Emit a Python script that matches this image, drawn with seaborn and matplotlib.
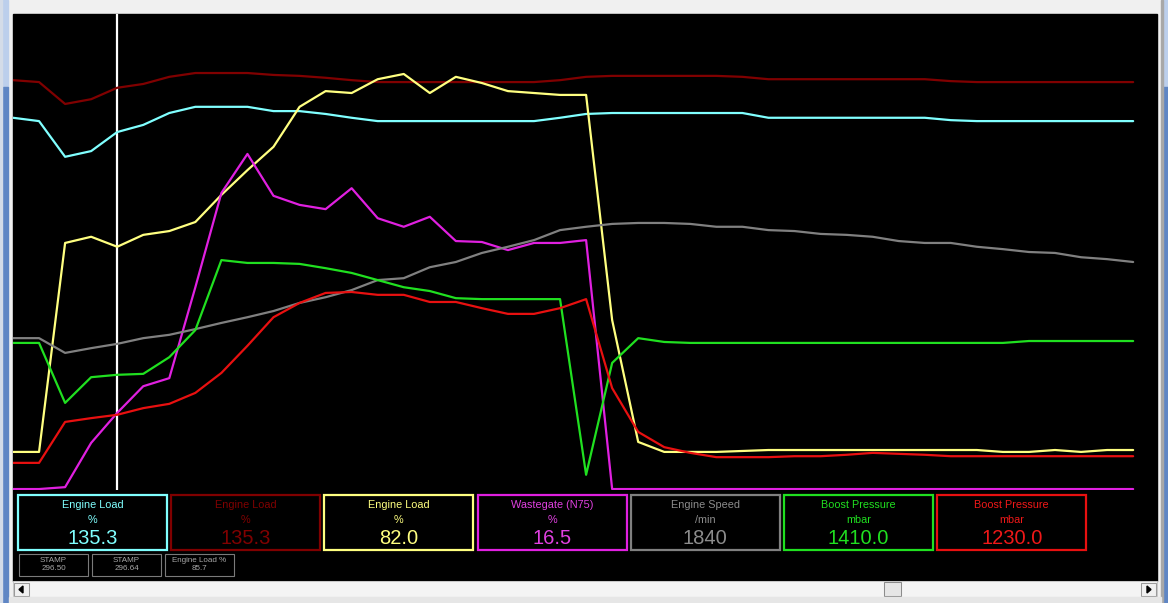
import numpy as np
import pandas as pd
import matplotlib
matplotlib.use("Agg")
import matplotlib.pyplot as plt
from matplotlib.patches import Rectangle, Polygon
import seaborn as sns

W, H = 1168, 603

engine_load_a = [78.2, 77.5, 70.0, 71.2, 75.2, 76.7, 79.2, 80.5, 80.5, 80.5,
                 79.6, 79.6, 79.0, 78.2, 77.5, 77.5, 77.5, 77.5, 77.5, 77.5,
                 77.5, 78.2, 79.0, 79.2, 79.2, 79.2, 79.2, 79.2, 79.2, 78.2,
                 78.2, 78.2, 78.2, 78.2, 78.2, 78.2, 77.7, 77.5, 77.5, 77.5,
                 77.5, 77.5, 77.5, 77.5]
engine_load_b = [86.1, 85.7, 81.1, 82.1, 84.5, 85.3, 86.8, 87.6, 87.6, 87.6,
                 87.2, 87.0, 86.6, 86.1, 85.7, 85.7, 85.7, 85.7, 85.7, 85.7,
                 85.7, 86.1, 86.8, 87.0, 87.0, 87.0, 87.0, 87.0, 86.8, 86.3,
                 86.3, 86.3, 86.3, 86.3, 86.3, 86.3, 85.9, 85.7, 85.7, 85.7,
                 85.7, 85.7, 85.7, 85.7]
engine_load_c = [8.0, 8.0, 51.9, 53.2, 51.1, 53.6, 54.4, 56.3, 62.0, 67.2,
                 72.1, 80.5, 83.8, 83.4, 86.3, 87.4, 83.4, 86.8, 85.5, 83.8,
                 83.4, 83.0, 83.0, 35.7, 10.1, 8.0, 8.0, 8.0, 8.2, 8.4,
                 8.4, 8.4, 8.4, 8.4, 8.4, 8.4, 8.4, 8.4, 8.0, 8.0,
                 8.4, 8.0, 8.4, 8.4]
wastegate = [0.2, 0.2, 0.6, 9.9, 16.2, 21.8, 23.5, 42.6, 62.4, 70.6,
             61.8, 59.9, 59.0, 63.4, 57.1, 55.3, 57.4, 52.3, 52.1, 50.4,
             51.9, 51.9, 52.5, 0.2, 0.2, 0.2, 0.2, 0.2, 0.2, 0.2,
             0.2, 0.2, 0.2, 0.2, 0.2, 0.2, 0.2, 0.2, 0.2, 0.2,
             0.2, 0.2, 0.2, 0.2]
engine_speed = [31.9, 31.9, 28.8, 29.8, 30.7, 31.9, 32.6, 33.8, 35.1, 36.3,
                37.6, 39.3, 40.5, 42.0, 44.1, 44.5, 46.8, 47.9, 49.8, 51.1,
                52.5, 54.6, 55.3, 55.9, 56.1, 56.1, 55.9, 55.3, 55.3, 54.6,
                54.4, 53.8, 53.6, 53.2, 52.3, 51.9, 51.9, 51.1, 50.6, 50.0,
                49.8, 48.9, 48.5, 47.9]
boost_spec = [30.9, 30.9, 18.3, 23.7, 24.2, 24.4, 27.9, 33.6, 48.3, 47.7,
              47.7, 47.5, 46.6, 45.6, 44.1, 42.6, 41.8, 40.3, 40.1, 40.1,
              40.1, 40.1, 3.2, 26.7, 31.9, 31.1, 30.9, 30.9, 30.9, 30.9,
              30.9, 30.9, 30.9, 30.9, 30.9, 30.9, 30.9, 30.9, 30.9, 31.3,
              31.3, 31.3, 31.3, 31.3]
boost_act = [5.7, 5.7, 14.3, 15.1, 15.8, 17.2, 18.1, 20.4, 24.6, 30.3,
             36.3, 39.3, 41.4, 41.6, 41.0, 41.0, 39.5, 39.5, 38.2, 37.0,
             37.0, 38.2, 40.1, 21.4, 12.2, 9.0, 7.8, 6.9, 6.9, 6.9,
             7.1, 7.1, 7.4, 7.8, 7.6, 7.4, 7.1, 7.1, 7.1, 7.1,
             7.1, 7.1, 7.1, 7.1]

CURSOR_SAMPLE = 4

channels = ["ch1", "ch2", "ch3", "ch4", "ch5", "ch6", "ch7"]
series = [engine_load_a, engine_load_b, engine_load_c, wastegate,
          engine_speed, boost_spec, boost_act]
line_colors = ["#80FFFF", "#800000", "#FFFF80", "#E020E0",
               "#808080", "#20E020", "#E81010"]
text_colors = ["#80FFFF", "#800000", "#FFFF80", "#E040E0",
               "#8C8C8C", "#20E020", "#F01818"]
panel_titles = ["Engine Load", "Engine Load", "Engine Load", "Wastegate (N75)",
                "Engine Speed", "Boost Pressure", "Boost Pressure"]
panel_units = ["%", "%", "%", "%", "/min", "mbar", "mbar"]
panel_values = ["135.3", "135.3", "82.0", "16.5", "1840", "1410.0", "1230.0"]

stamp_titles = ["STAMP", "STAMP", "Engine Load %"]
stamp_values = ["296.50", "296.64", "85.7"]

rows = []
for ch, vals in zip(channels, series):
    for i, v in enumerate(vals):
        rows.append({"sample": i, "value": v, "channel": ch})
df = pd.DataFrame(rows)

sns.set_style("white")
plt.rcParams["font.family"] = ["Liberation Sans", "DejaVu Sans"]

fig = plt.figure(figsize=(W / 100, H / 100), dpi=100, facecolor="#F0F0F0")


def fig_rect(x0, y0, x1, y1):
    return [x0 / W, 1 - y1 / H, (x1 - x0) / W, (y1 - y0) / H]


# window chrome, drawn in screen pixels
bg = fig.add_axes([0, 0, 1, 1], zorder=0)
bg.set_xlim(0, W)
bg.set_ylim(H, 0)
bg.set_axis_off()
bg.add_patch(Rectangle((0, 0), W, H, color="#F0F0F0"))
# outer window scroll strips (light on top, darker blue below)
for sx in (3, 1163):
    bg.add_patch(Rectangle((sx, 0), 5, 87, color="#BCCFEC"))
    bg.add_patch(Rectangle((sx, 87), 5, H - 87, color="#5F86C4"))
bg.add_patch(Rectangle((0, 0), 2, H, color="#D4DCE8"))
bg.add_patch(Rectangle((1161, 0), 1.5, H, color="#A8A8A8"))
bg.add_patch(Rectangle((13, 14), 1144, 567, color="black"))
# scroll bar
bg.add_patch(Rectangle((13, 581), 1144, 16, facecolor="#F4F4F4", edgecolor="#C8C8C8", lw=0.75))
bg.add_patch(Rectangle((14, 583), 15, 13, facecolor="#F0F0F0", edgecolor="#9A9A9A", lw=0.75))
bg.add_patch(Rectangle((1141, 583), 15, 13, facecolor="#F0F0F0", edgecolor="#9A9A9A", lw=0.75))
bg.add_patch(Rectangle((884, 582), 17, 14, facecolor="#E6E6E6", edgecolor="#8C8C8C", lw=0.75))
bg.add_patch(Polygon([(19, 589.5), (23, 586), (23, 593)], color="black"))
bg.add_patch(Polygon([(1151, 589.5), (1147, 586), (1147, 593)], color="black"))
bg.add_patch(Rectangle((9, 597), 1152, 6, color="#E6E6E6"))

# value panels
for k in range(len(channels)):
    x0 = 18 + k * 153.2
    bg.add_patch(Rectangle((x0, 495), 149, 55, facecolor="black",
                           edgecolor=line_colors[k], lw=1.6))
    cx = x0 + 74.5
    bg.text(cx, 505, panel_titles[k], color=text_colors[k], fontsize=7.8,
            ha="center", va="center")
    bg.text(cx, 520, panel_units[k], color=text_colors[k], fontsize=7.8,
            ha="center", va="center")
    bg.text(cx, 539, panel_values[k], color=text_colors[k], fontsize=14.5,
            ha="center", va="center")

for k in range(len(stamp_titles)):
    x0 = 19 + k * 73
    bg.add_patch(Rectangle((x0, 554), 69, 22, facecolor="black",
                           edgecolor="#7A7A7A", lw=0.8))
    bg.text(x0 + 34.5, 560.5, stamp_titles[k], color="#A8A8A8", fontsize=5.8,
            ha="center", va="center")
    bg.text(x0 + 34.5, 569, stamp_values[k], color="#A8A8A8", fontsize=5.8,
            ha="center", va="center")

# the trace chart
ax = fig.add_axes(fig_rect(13, 14, 1157, 490), zorder=1)
ax.patch.set_alpha(0)
sns.lineplot(data=df, x="sample", y="value", hue="channel", hue_order=channels,
             palette=dict(zip(channels, line_colors)), estimator=None, sort=False,
             legend=False, linewidth=1.6, ax=ax)
ax.axvline(CURSOR_SAMPLE, color="white", lw=1.6, zorder=0)
ax.set_xlim(0, 1144 / 26.05)
ax.set_ylim(0, 100)
ax.set_axis_off()

fig.savefig("out.png", dpi=100, facecolor=fig.get_facecolor())
